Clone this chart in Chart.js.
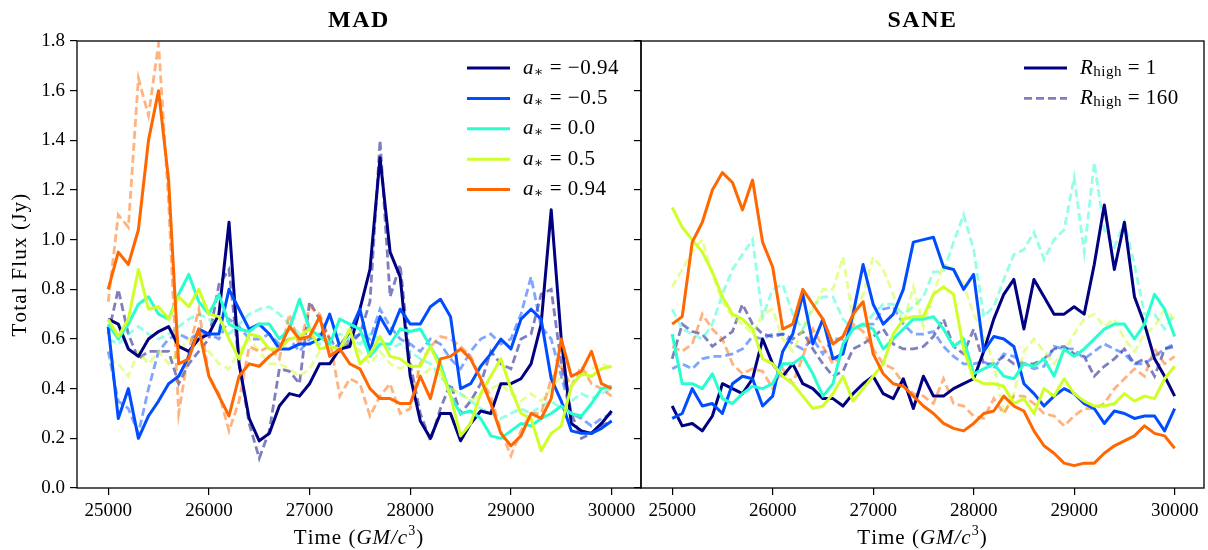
<!DOCTYPE html>
<html>
<head>
<meta charset="utf-8">
<script src="https://cdn.jsdelivr.net/npm/chart.js@4"></script>
<style>
  html, body { margin: 0; padding: 0; background: #fff; }
  #wrap { position: relative; width: 1208px; height: 550px; overflow: hidden; }
  canvas { position: absolute; top: 0; }
</style>
</head>
<body>
<div id="wrap">
  <canvas id="mad" width="642" height="550" style="left:0px"></canvas>
  <canvas id="sane" width="578" height="550" style="left:630px"></canvas>
</div>
<script>
// time axis (GM/c^3)
const times = [25000, 25100, 25200, 25300, 25400, 25500, 25600, 25700, 25800, 25900,
  26000, 26100, 26200, 26300, 26400, 26500, 26600, 26700, 26800, 26900,
  27000, 27100, 27200, 27300, 27400, 27500, 27600, 27700, 27800, 27900,
  28000, 28100, 28200, 28300, 28400, 28500, 28600, 28700, 28800, 28900,
  29000, 29100, 29200, 29300, 29400, 29500, 29600, 29700, 29800, 29900, 30000];

const xTicks = [25000, 26000, 27000, 28000, 29000, 30000];
const yTicks = [0.0, 0.2, 0.4, 0.6, 0.8, 1.0, 1.2, 1.4, 1.6, 1.8];

const spinLabels = ['\u22120.94', '\u22120.5', '0.0', '0.5', '0.94'];
const spinColors = ['#000080', '#004dff', '#29ffce', '#ceff29', '#ff6800'];
const spinColorsLight = ['rgba(0,0,128,0.5)', 'rgba(0,77,255,0.5)', 'rgba(41,255,206,0.5)', 'rgba(206,255,41,0.5)', 'rgba(255,104,0,0.5)'];

// MAD, R_high = 1 (solid)
const madR1_m094 = [0.68, 0.66, 0.56, 0.53, 0.6, 0.63, 0.65, 0.57, 0.55, 0.6,
  0.62, 0.7, 1.07, 0.5, 0.28, 0.19, 0.22, 0.33, 0.38, 0.37,
  0.42, 0.5, 0.5, 0.56, 0.57, 0.72, 0.88, 1.33, 0.95, 0.85,
  0.45, 0.27, 0.2, 0.3, 0.3, 0.19, 0.26, 0.31, 0.3, 0.42,
  0.42, 0.44, 0.5, 0.66, 1.12, 0.6, 0.26, 0.23, 0.22, 0.26, 0.31];
const madR1_m05 = [0.65, 0.28, 0.4, 0.2, 0.29, 0.35, 0.42, 0.45, 0.53, 0.64,
  0.62, 0.62, 0.8, 0.72, 0.64, 0.66, 0.62, 0.56, 0.56, 0.58,
  0.58, 0.6, 0.7, 0.57, 0.63, 0.72, 0.55, 0.69, 0.62, 0.72,
  0.66, 0.66, 0.73, 0.76, 0.69, 0.4, 0.42, 0.49, 0.54, 0.6,
  0.56, 0.68, 0.72, 0.68, 0.44, 0.35, 0.23, 0.22, 0.22, 0.24, 0.27];
const madR1_00 = [0.66, 0.6, 0.66, 0.74, 0.77, 0.7, 0.68, 0.78, 0.86, 0.75,
  0.7, 0.78, 0.66, 0.64, 0.63, 0.66, 0.66, 0.6, 0.64, 0.76,
  0.64, 0.61, 0.58, 0.68, 0.66, 0.64, 0.53, 0.58, 0.58, 0.64,
  0.63, 0.64, 0.57, 0.5, 0.37, 0.3, 0.31, 0.28, 0.21, 0.2,
  0.23, 0.26, 0.25, 0.28, 0.3, 0.33, 0.3, 0.29, 0.34, 0.4, 0.41];
const madR1_05 = [0.68, 0.61, 0.68, 0.88, 0.72, 0.73, 0.68, 0.77, 0.73, 0.8,
  0.7, 0.69, 0.6, 0.52, 0.62, 0.61, 0.56, 0.56, 0.6, 0.61,
  0.64, 0.56, 0.57, 0.56, 0.64, 0.5, 0.54, 0.61, 0.53, 0.52,
  0.49, 0.49, 0.57, 0.48, 0.37, 0.21, 0.26, 0.38, 0.45, 0.52,
  0.4, 0.3, 0.28, 0.15, 0.22, 0.25, 0.41, 0.46, 0.45, 0.48, 0.49];
const madR1_094 = [0.8, 0.95, 0.9, 1.04, 1.4, 1.6, 1.24, 0.5, 0.52, 0.64,
  0.45, 0.37, 0.29, 0.45, 0.5, 0.49, 0.53, 0.56, 0.65, 0.6,
  0.61, 0.69, 0.53, 0.56, 0.5, 0.48, 0.4, 0.36, 0.36, 0.34,
  0.34, 0.45, 0.36, 0.52, 0.53, 0.56, 0.52, 0.44, 0.34, 0.22,
  0.17, 0.21, 0.3, 0.28, 0.36, 0.6, 0.45, 0.47, 0.55, 0.42, 0.4];

// MAD, R_high = 160 (dashed)
const madR160_m094 = [0.62, 0.8, 0.62, 0.52, 0.55, 0.55, 0.55, 0.42, 0.5, 0.55,
  0.6, 0.82, 0.88, 0.5, 0.26, 0.12, 0.23, 0.48, 0.47, 0.42,
  0.75, 0.68, 0.6, 0.56, 0.58, 0.62, 0.75, 1.4, 0.77, 0.9,
  0.5, 0.3, 0.19, 0.32, 0.42, 0.3, 0.35, 0.42, 0.55, 0.5,
  0.48, 0.6, 0.62, 0.78, 0.8, 0.5, 0.3, 0.2, 0.22, 0.25, 0.27];
const madR160_m05 = [0.55, 0.35, 0.32, 0.22, 0.4, 0.55, 0.6, 0.62, 0.6, 0.62,
  0.62, 0.6, 0.68, 0.65, 0.6, 0.6, 0.62, 0.58, 0.6, 0.55,
  0.6, 0.62, 0.6, 0.55, 0.6, 0.62, 0.6, 0.72, 0.65, 0.6,
  0.58, 0.55, 0.6, 0.58, 0.52, 0.48, 0.55, 0.6, 0.62, 0.58,
  0.6, 0.7, 0.85, 0.65, 0.6, 0.45, 0.3, 0.28, 0.25, 0.28, 0.3];
const madR160_00 = [0.6, 0.58, 0.62, 0.65, 0.62, 0.6, 0.62, 0.65, 0.68, 0.7,
  0.68, 0.65, 0.62, 0.66, 0.7, 0.72, 0.73, 0.7, 0.66, 0.62,
  0.6, 0.58, 0.6, 0.62, 0.6, 0.58, 0.62, 0.6, 0.56, 0.58,
  0.55, 0.52, 0.5, 0.45, 0.4, 0.38, 0.35, 0.32, 0.3, 0.28,
  0.3, 0.32, 0.3, 0.33, 0.35, 0.32, 0.35, 0.38, 0.36, 0.38, 0.4];
const madR160_05 = [0.52, 0.5, 0.45, 0.55, 0.5, 0.55, 0.5, 0.55, 0.6, 0.58,
  0.55, 0.5, 0.48, 0.55, 0.6, 0.55, 0.5, 0.5, 0.48, 0.45,
  0.48, 0.55, 0.58, 0.55, 0.6, 0.55, 0.5, 0.55, 0.5, 0.48,
  0.5, 0.45, 0.48, 0.45, 0.4, 0.38, 0.35, 0.38, 0.4, 0.42,
  0.38, 0.35, 0.38, 0.35, 0.4, 0.45, 0.42, 0.45, 0.48, 0.5, 0.48];
const madR160_094 = [0.75, 1.1, 1.05, 1.65, 1.5, 1.79, 1.15, 0.3, 0.55, 0.72,
  0.45, 0.38, 0.23, 0.35, 0.57, 0.55, 0.57, 0.52, 0.7, 0.57,
  0.73, 0.7, 0.6, 0.37, 0.44, 0.42, 0.29, 0.37, 0.42, 0.3,
  0.32, 0.5, 0.57, 0.61, 0.6, 0.57, 0.53, 0.44, 0.37, 0.23,
  0.13, 0.23, 0.3, 0.3, 0.44, 0.49, 0.41, 0.49, 0.42, 0.4, 0.37];

// SANE, R_high = 1 (solid)
const saneR1_m094 = [0.33, 0.25, 0.26, 0.23, 0.29, 0.42, 0.4, 0.38, 0.44, 0.6,
  0.5, 0.45, 0.5, 0.42, 0.4, 0.36, 0.36, 0.33, 0.38, 0.42,
  0.45, 0.38, 0.36, 0.44, 0.32, 0.45, 0.37, 0.37, 0.4, 0.42,
  0.44, 0.55, 0.68, 0.78, 0.84, 0.64, 0.84, 0.77, 0.7, 0.7,
  0.73, 0.7, 0.9, 1.14, 0.88, 1.07, 0.77, 0.66, 0.52, 0.45, 0.37];
const saneR1_m05 = [0.28, 0.3, 0.4, 0.33, 0.34, 0.3, 0.42, 0.45, 0.44, 0.33,
  0.37, 0.55, 0.62, 0.78, 0.58, 0.68, 0.52, 0.54, 0.7, 0.9,
  0.74, 0.66, 0.7, 0.8, 0.99, 1.0, 1.01, 0.89, 0.88, 0.8,
  0.86, 0.55, 0.61, 0.6, 0.57, 0.42, 0.38, 0.33, 0.37, 0.4,
  0.38, 0.34, 0.32, 0.26, 0.31, 0.3, 0.28, 0.29, 0.29, 0.23, 0.32];
const saneR1_00 = [0.62, 0.42, 0.42, 0.4, 0.46, 0.36, 0.34, 0.38, 0.41, 0.4,
  0.42, 0.5, 0.5, 0.53, 0.46, 0.37, 0.42, 0.58, 0.64, 0.66,
  0.64, 0.56, 0.6, 0.64, 0.68, 0.68, 0.69, 0.64, 0.57, 0.6,
  0.46, 0.48, 0.5, 0.45, 0.44, 0.5, 0.49, 0.52, 0.45, 0.56,
  0.53, 0.56, 0.6, 0.64, 0.66, 0.66, 0.6, 0.66, 0.78, 0.72, 0.61];
const saneR1_05 = [1.13, 1.05, 1.0, 0.95, 0.87, 0.77, 0.7, 0.68, 0.64, 0.52,
  0.5, 0.45, 0.42, 0.37, 0.32, 0.33, 0.38, 0.45, 0.35, 0.4,
  0.45, 0.5, 0.62, 0.68, 0.69, 0.69, 0.78, 0.81, 0.78, 0.56,
  0.44, 0.42, 0.42, 0.41, 0.34, 0.36, 0.3, 0.4, 0.37, 0.44,
  0.38, 0.35, 0.33, 0.33, 0.34, 0.38, 0.35, 0.37, 0.36, 0.44, 0.49];
const saneR1_094 = [0.66, 0.69, 0.99, 1.07, 1.2, 1.27, 1.23, 1.12, 1.24, 0.99,
  0.89, 0.64, 0.66, 0.8, 0.74, 0.68, 0.58, 0.61, 0.7, 0.75,
  0.54, 0.46, 0.42, 0.41, 0.37, 0.33, 0.3, 0.26, 0.24, 0.23,
  0.26, 0.3, 0.31, 0.37, 0.33, 0.31, 0.23, 0.17, 0.14, 0.1,
  0.09, 0.1, 0.1, 0.14, 0.17, 0.19, 0.21, 0.25, 0.22, 0.21, 0.16];

// SANE, R_high = 160 (dashed)
const saneR160_m094 = [0.52, 0.66, 0.63, 0.62, 0.57, 0.6, 0.63, 0.74, 0.66, 0.62,
  0.61, 0.62, 0.6, 0.63, 0.56, 0.5, 0.45, 0.47, 0.56, 0.58,
  0.61, 0.64, 0.58, 0.56, 0.56, 0.57, 0.61, 0.68, 0.57, 0.54,
  0.64, 0.5, 0.5, 0.53, 0.5, 0.5, 0.5, 0.52, 0.56, 0.57,
  0.54, 0.53, 0.45, 0.49, 0.52, 0.56, 0.5, 0.52, 0.45, 0.56, 0.57];
const saneR160_m05 = [0.48, 0.5, 0.48, 0.52, 0.53, 0.53, 0.54, 0.56, 0.61, 0.6,
  0.62, 0.62, 0.58, 0.56, 0.6, 0.54, 0.6, 0.6, 0.64, 0.66,
  0.66, 0.72, 0.73, 0.66, 0.62, 0.62, 0.63, 0.57, 0.53, 0.5,
  0.5, 0.51, 0.48, 0.54, 0.53, 0.5, 0.48, 0.49, 0.57, 0.56,
  0.56, 0.52, 0.55, 0.58, 0.56, 0.54, 0.5, 0.5, 0.53, 0.56, 0.58];
const saneR160_00 = [0.72, 0.64, 0.62, 0.6, 0.66, 0.78, 0.88, 0.94, 1.0, 0.69,
  0.8, 0.82, 0.7, 0.64, 0.73, 0.77, 0.77, 0.68, 0.64, 0.65,
  0.7, 0.74, 0.74, 0.7, 0.73, 0.77, 0.87, 0.87, 0.99, 1.1,
  0.96, 0.69, 0.73, 0.84, 0.94, 0.96, 1.03, 0.92, 1.0, 1.04,
  1.25, 0.95, 1.31, 1.04, 0.97, 1.07, 0.9, 0.7, 0.7, 0.64, 0.7];
const saneR160_05 = [0.81, 0.88, 0.95, 1.0, 0.86, 0.75, 0.69, 0.66, 0.62, 0.7,
  0.72, 0.6, 0.55, 0.64, 0.72, 0.8, 0.8, 0.93, 0.68, 0.78,
  0.93, 0.88, 0.78, 0.66, 0.81, 0.65, 0.78, 0.9, 0.88, 0.82,
  0.7, 0.62, 0.5, 0.3, 0.38, 0.55, 0.6, 0.55, 0.5, 0.55,
  0.62, 0.68, 0.7, 0.65, 0.68, 0.6, 0.55, 0.62, 0.65, 0.72, 0.68];
const saneR160_094 = [0.57, 0.55, 0.58, 0.7, 0.64, 0.6, 0.5, 0.46, 0.48, 0.47,
  0.4, 0.48, 0.42, 0.53, 0.64, 0.57, 0.5, 0.55, 0.66, 0.63,
  0.56, 0.5, 0.48, 0.42, 0.38, 0.37, 0.34, 0.44, 0.34, 0.33,
  0.29, 0.28, 0.36, 0.3, 0.37, 0.37, 0.34, 0.3, 0.29, 0.25,
  0.29, 0.32, 0.32, 0.34, 0.4, 0.44, 0.48, 0.45, 0.56, 0.5, 0.53];

const SERIF = "'Liberation Serif', 'DejaVu Serif', serif";

// draw a run of text pieces (different fonts / offsets), with a bit of extra
// space between characters done by hand
const drawRich = (ctx, parts, x, y, align, spacing) => {
    const sp = spacing || 0;
    let total = 0;
    parts.forEach(p => {
        ctx.font = p.font;
        for (const ch of p.text) total += ctx.measureText(ch).width + sp;
    });
    let cx = align === 'center' ? x - total / 2 : x;
    ctx.textAlign = 'left';
    ctx.textBaseline = 'middle';
    parts.forEach(p => {
        ctx.font = p.font;
        for (const ch of p.text) {
            ctx.fillText(ch, cx, y + (p.dy || 0));
            cx += ctx.measureText(ch).width + sp;
        }
    });
};

const timeLabel = [
    { text: 'Time (', font: `21px ${SERIF}` },
    { text: 'GM/c', font: `italic 21px ${SERIF}` },
    { text: '3', font: `14px ${SERIF}`, dy: -7 },
    { text: ')', font: `21px ${SERIF}` }
];

const decorPlugin = {
    id: 'decor',
    afterDraw(chart, args, opts) {
        const ctx = chart.ctx;
        const a = chart.chartArea;
        ctx.save();
        // frame
        ctx.strokeStyle = '#000';
        ctx.lineWidth = 1.3;
        ctx.strokeRect(a.left, a.top, a.right - a.left, a.bottom - a.top);
        ctx.fillStyle = '#000';
        // panel title
        drawRich(ctx, [{ text: opts.title, font: `bold 24px ${SERIF}` }], (a.left + a.right) / 2, 21, 'center', 1.5);
        // x label
        drawRich(ctx, timeLabel, (a.left + a.right) / 2, 538, 'center', 1);
        // y label
        if (opts.yLabel) {
            ctx.save();
            ctx.translate(20, (a.top + a.bottom) / 2);
            ctx.rotate(-Math.PI / 2);
            drawRich(ctx, [{ text: opts.yLabel, font: `21px ${SERIF}` }], 0, 0, 'center', 1.2);
            ctx.restore();
        }
        // legend
        opts.legend.forEach((row, i) => {
            const y = opts.legendY + i * opts.legendGap;
            ctx.save();
            ctx.strokeStyle = row.color;
            ctx.lineWidth = row.dash ? 2.8 : 3;
            ctx.setLineDash(row.dash || []);
            ctx.beginPath();
            ctx.moveTo(opts.legendX, y);
            ctx.lineTo(opts.legendX + 43, y);
            ctx.stroke();
            ctx.restore();
            ctx.fillStyle = '#000';
            drawRich(ctx, row.parts, opts.legendX + 56, y, 'left', 0.5);
        });
        ctx.restore();
    }
};

const makeSets = (solids, dashes) => {
    const sets = [];
    dashes.forEach((vals, i) => {
        sets.push({
            data: times.map((t, k) => ({ x: t, y: vals[k] })),
            borderColor: spinColorsLight[i],
            borderWidth: 2.8,
            borderDash: [8, 4],
            pointRadius: 0,
            tension: 0,
            fill: false
        });
    });
    solids.forEach((vals, i) => {
        sets.push({
            data: times.map((t, k) => ({ x: t, y: vals[k] })),
            borderColor: spinColors[i],
            borderWidth: 3,
            borderJoinStyle: 'round',
            pointRadius: 0,
            tension: 0,
            fill: false
        });
    });
    // later datasets on top, like the original plotting order
    sets.forEach((s, i) => { s.order = -i; });
    return sets;
};

const makePanel = (canvasId, solids, dashes, yWidth, padRight, showYLabels, decor) => {
    const ctx = document.getElementById(canvasId).getContext('2d');
    const tickFont = { family: SERIF, size: 19 };
    new Chart(ctx, {
        type: 'line',
        data: { datasets: makeSets(solids, dashes) },
        options: {
            responsive: false,
            animation: false,
            devicePixelRatio: 1,
            layout: { padding: { top: 41, left: 0, right: padRight, bottom: 0 } },
            plugins: {
                legend: { display: false },
                tooltip: { enabled: false },
                decor: decor
            },
            scales: {
                x: {
                    type: 'linear',
                    min: 24690,
                    max: 30292,
                    afterBuildTicks: s => { s.ticks = xTicks.map(v => ({ value: v })); },
                    afterFit: s => { s.height = 62; },
                    ticks: { color: '#000', font: tickFont, maxRotation: 0, padding: 5, callback: v => String(v) },
                    grid: { drawOnChartArea: false, drawTicks: true, tickLength: 7, color: '#000', lineWidth: 1.2 },
                    border: { display: false }
                },
                y: {
                    type: 'linear',
                    min: 0,
                    max: 1.8,
                    afterBuildTicks: s => { s.ticks = yTicks.map(v => ({ value: v })); },
                    afterFit: s => { s.width = yWidth; },
                    ticks: { color: '#000', font: tickFont, padding: 5, callback: v => showYLabels ? v.toFixed(1) : '' },
                    grid: { drawOnChartArea: false, drawTicks: true, tickLength: 7, color: '#000', lineWidth: 1.2 },
                    border: { display: false }
                }
            }
        },
        plugins: [decorPlugin]
    });
};

const spinParts = lab => [
    { text: 'a', font: `italic 21px ${SERIF}` },
    { text: '\u2217', font: `14px ${SERIF}`, dy: 4 },
    { text: ' = ' + lab, font: `21px ${SERIF}` }
];
const rhighParts = lab => [
    { text: 'R', font: `italic 21px ${SERIF}` },
    { text: 'high', font: `15px ${SERIF}`, dy: 4 },
    { text: ' = ' + lab, font: `21px ${SERIF}` }
];

makePanel('mad',
    [madR1_m094, madR1_m05, madR1_00, madR1_05, madR1_094],
    [madR160_m094, madR160_m05, madR160_00, madR160_05, madR160_094],
    77, 1, true,
    {
        title: 'MAD',
        yLabel: 'Total Flux (Jy)',
        legendX: 467, legendY: 68, legendGap: 30.4,
        legend: spinLabels.map((lab, i) => ({ color: spinColors[i], parts: spinParts(lab) }))
    });

makePanel('sane',
    [saneR1_m094, saneR1_m05, saneR1_00, saneR1_05, saneR1_094],
    [saneR160_m094, saneR160_m05, saneR160_00, saneR160_05, saneR160_094],
    11, 4, false,
    {
        title: 'SANE',
        yLabel: null,
        legendX: 1024 - 630, legendY: 68, legendGap: 30.4,
        legend: [
            { color: spinColors[0], parts: rhighParts('1') },
            { color: spinColorsLight[0], dash: [8, 4], parts: rhighParts('160') }
        ]
    });
</script>
</body>
</html>
